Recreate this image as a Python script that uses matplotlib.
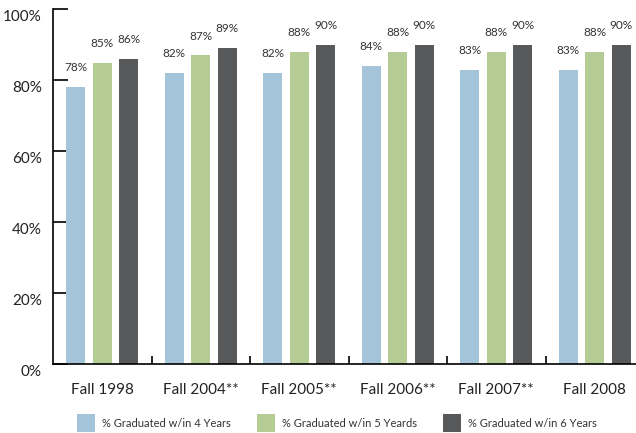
import numpy as np
import matplotlib
matplotlib.use("Agg")
import matplotlib.pyplot as plt
import matplotlib.transforms as mtransforms
from matplotlib.patches import Patch

plt.rcParams["font.family"] = ["Lato", "DejaVu Sans"]

# Graduation rates by entering cohort
cohorts = ["Fall 1998", "Fall 2004**", "Fall 2005**", "Fall 2006**", "Fall 2007**", "Fall 2008"]
grad_4yr = [78, 82, 82, 84, 83, 83]
grad_5yr = [85, 87, 88, 88, 88, 88]
grad_6yr = [86, 89, 90, 90, 90, 90]
series_names = ["% Graduated w/in 4 Years", "% Graduated w/in 5 Yeards", "% Graduated w/in 6 Years"]
colors = ["#a3c4d9", "#b5cc95", "#58595b"]

fig = plt.figure(figsize=(6.36, 4.33), dpi=100)
W, H = 636, 433
ax = fig.add_axes([53 / W, (H - 364) / H, (636 - 53) / W, (364 - 9.3) / H])

x = np.arange(len(cohorts)) + 0.5
width = 0.193
step = 0.269
for i, (vals, col) in enumerate(zip([grad_4yr, grad_5yr, grad_6yr], colors)):
    pos = x + (i - 1) * step
    bars = ax.bar(pos, vals, width=width, color=col, zorder=2)
    for b, v in zip(bars, vals):
        ax.annotate(f"{v}%", (b.get_x() + b.get_width() / 2, v), xytext=(0, 10),
                    textcoords="offset points", ha="center", va="bottom",
                    fontsize=8.5, color="#333333")

ax.set_xlim(0, (636 - 53) / 98.5)
ax.set_ylim(0, 100)

for s in ["top", "right"]:
    ax.spines[s].set_visible(False)
for s in ["left", "bottom"]:
    ax.spines[s].set_linewidth(1.2)
    ax.spines[s].set_color("black")

ax.set_yticks([0, 20, 40, 60, 80, 100])
ax.set_yticklabels([f"{v}%" for v in [0, 20, 40, 60, 80, 100]], fontsize=11, color="#222222")
ax.tick_params(axis="y", direction="in", length=11, width=1.2, pad=8)
offset = mtransforms.ScaledTranslation(0, -6 / 100, fig.dpi_scale_trans)
for lab in ax.get_yticklabels():
    lab.set_transform(lab.get_transform() + offset)

ax.set_xticks(x)
ax.set_xticklabels(cohorts, fontsize=11, color="#222222")
ax.tick_params(axis="x", which="major", length=0, pad=14)
ax.set_xticks(np.arange(1, len(cohorts)), minor=True)
ax.tick_params(axis="x", which="minor", direction="in", length=6, width=1.2)

handles = [Patch(facecolor=c, edgecolor="none") for c in colors]
fig.legend(handles, series_names, loc="center", bbox_to_anchor=(337 / W, (H - 423) / H),
           ncol=3, frameon=False, fontsize=8, handlelength=1.6, handleheight=2.0,
           columnspacing=2.3, handletextpad=0.7, labelcolor="#333333")

fig.savefig("out.png", dpi=100)
